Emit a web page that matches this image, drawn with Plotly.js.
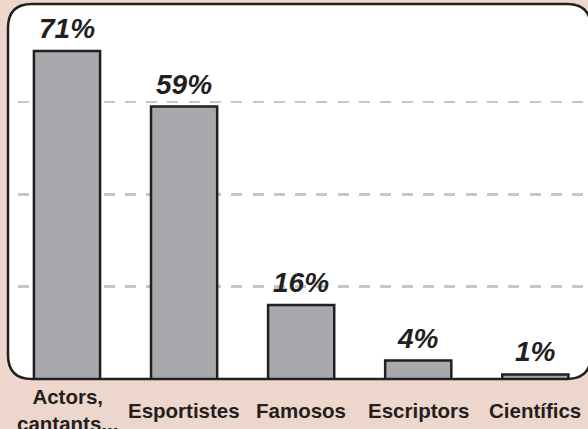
<!DOCTYPE html>
<html>
<head>
<meta charset="utf-8">
<script src="https://cdn.plot.ly/plotly-3.0.1.min.js"></script>
<style>
  html, body { margin: 0; padding: 0; background: #edd6cc; }
  #chart { width: 588px; height: 429px; }
</style>
</head>
<body>
<div id="chart"></div>
<script>
// Data
const categories = ["Actors,<br>cantants...", "Esportistes", "Famosos", "Escriptors", "Científics"];
const values = [71, 59, 16, 4, 1];
const valueLabels = ["71%", "59%", "16%", "4%", "1%"];
const gridValues = [20, 40, 60];

const ink = "#231f20";

const trace = {
  type: "bar",
  x: categories,
  y: values,
  marker: { color: "#a7a9ac", line: { color: ink, width: 2.5 } },
  hoverinfo: "skip"
};

const valueAnnotations = categories.map((c, i) => ({
  x: c, y: values[i], xref: "x", yref: "y",
  text: valueLabels[i], showarrow: false,
  yanchor: "bottom", yshift: 5,
  font: { family: "Liberation Sans, Arial, sans-serif", size: 28, color: ink, weight: "bold", style: "italic" }
}));

const categoryAnnotations = categories.map((c) => ({
  x: c, y: 0, xref: "x", yref: "paper",
  text: c, showarrow: false,
  yanchor: "middle", yshift: -31,
  font: { family: "Liberation Sans, Arial, sans-serif", size: 20.5, color: ink, weight: "bold" }
}));

// Rounded white panel (paper coordinates)
const rx = 24 / 580, ry = 24 / 375, x0 = 0, x1 = 1.005, y0 = 0, y1 = 1;
const panelPath = `M ${x0 + rx},${y0} L ${x1 - rx},${y0} Q ${x1},${y0} ${x1},${y0 + ry} ` +
  `L ${x1},${y1 - ry} Q ${x1},${y1} ${x1 - rx},${y1} L ${x0 + rx},${y1} Q ${x0},${y1} ${x0},${y1 - ry} ` +
  `L ${x0},${y0 + ry} Q ${x0},${y0} ${x0 + rx},${y0} Z`;

const layout = {
  width: 588, height: 429,
  margin: { l: 8, r: 0, t: 4, b: 50 },
  paper_bgcolor: "#edd6cc",
  plot_bgcolor: "rgba(0,0,0,0)",
  showlegend: false,
  bargap: 0.435,
  xaxis: {
    range: [-0.504, 4.45],
    showticklabels: false, showgrid: false, zeroline: false, showline: false, ticks: ""
  },
  yaxis: {
    range: [0, 81.2],
    tickvals: gridValues,
    showticklabels: false, zeroline: false, showline: false, ticks: "",
    showgrid: true, gridcolor: "#c6c6c6", gridwidth: 2.5,
    griddash: "0px,10.3px,11px,0px"
  },
  shapes: [{
    type: "path", xref: "paper", yref: "paper", path: panelPath,
    fillcolor: "#ffffff", line: { color: ink, width: 2.5 }, layer: "below"
  }],
  annotations: valueAnnotations.concat(categoryAnnotations)
};

Plotly.newPlot("chart", [trace], layout, { staticPlot: true, displayModeBar: false });
</script>
</body>
</html>
